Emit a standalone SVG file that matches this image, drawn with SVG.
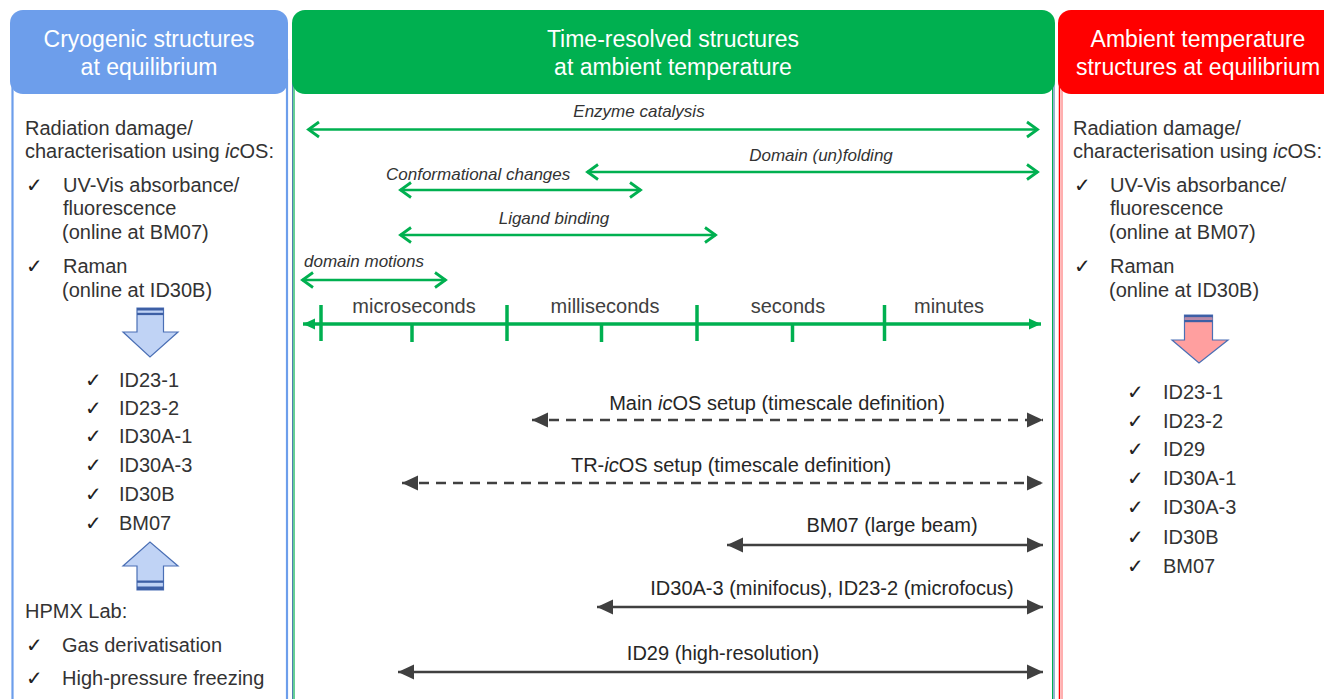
<svg xmlns="http://www.w3.org/2000/svg" width="1324" height="699" viewBox="0 0 1324 699">
<style>
text{font-family:"Liberation Sans",Arial,sans-serif;}
.hd{fill:#fff;font-size:23px;text-anchor:middle;}
.bt{fill:#333;font-size:20px;}
.ck{fill:#222;font-size:20px;font-family:"DejaVu Sans",sans-serif;}
.it{fill:#333;font-size:17px;font-style:italic;}
.ti{fill:#404040;font-size:20px;text-anchor:middle;}
.lb{fill:#262626;font-size:20px;text-anchor:middle;}
.ga{stroke:#00b050;stroke-width:2.5;fill:none;marker-start:url(#gch);marker-end:url(#gch);}
.da{stroke:#404040;stroke-width:2.5;fill:none;marker-start:url(#dtri);marker-end:url(#dtri);}
.dash{stroke-dasharray:10 7;}
.tk{stroke:#00b050;stroke-width:3.5;}
</style>
<defs>
<marker id="gch" viewBox="-14 -10 16 20" markerWidth="16" markerHeight="20" refX="0" refY="0" markerUnits="userSpaceOnUse" orient="auto-start-reverse" overflow="visible">
<path d="M -11 -7.5 L -0.5 0 L -11 7.5" fill="none" stroke="#00b050" stroke-width="2.8" stroke-linejoin="miter"/>
</marker>
<marker id="dtri" viewBox="-17 -8 18 16" markerWidth="18" markerHeight="16" refX="0" refY="0" markerUnits="userSpaceOnUse" orient="auto-start-reverse" overflow="visible">
<path d="M -16 -7.5 L 0 0 L -16 7.5 Z" fill="#404040"/>
</marker>
<marker id="gtri" viewBox="-13 -6 14 12" markerWidth="14" markerHeight="12" refX="0" refY="0" markerUnits="userSpaceOnUse" orient="auto-start-reverse" overflow="visible">
<path d="M -12 -5.5 L 0 0 L -12 5.5 Z" fill="#00b050"/>
</marker>
</defs>
<rect width="1324" height="699" fill="#fff"/>

<g id="col-cryo">
<rect x="12.5" y="60" width="274.5" height="660" fill="none" stroke="#6d9eeb" stroke-width="2.2"/>
<rect x="10" y="10" width="278" height="84" rx="13" fill="#6d9eeb"/>
<text class="hd" x="149" y="47">Cryogenic structures</text>
<text class="hd" x="149" y="75">at equilibrium</text>
<text class="bt" x="25" y="135">Radiation damage/</text>
<text class="bt" x="25" y="158">characterisation using <tspan font-style="italic">ic</tspan>OS:</text>
<text class="ck" x="26" y="192">✓</text>
<text class="bt" x="63" y="192">UV-Vis absorbance/</text>
<text class="bt" x="63" y="215">fluorescence</text>
<text class="bt" x="62" y="239">(online at BM07)</text>
<text class="ck" x="26" y="273">✓</text>
<text class="bt" x="63" y="273">Raman</text>
<text class="bt" x="62" y="297">(online at ID30B)</text>
<g id="arrow-down-blue">
<path d="M137 308 H163.5 V332 H178 L150 357 L123 332 H137 Z" fill="#c0d3f5" stroke="#4a6fb5" stroke-width="1.2"/>
<rect x="137" y="308" width="26.5" height="2.5" fill="#3d5fa5"/>
<rect x="137" y="312.8" width="26.5" height="2.3" fill="#3d5fa5"/>
</g>
<text class="ck" x="85" y="387">✓</text><text class="bt" x="119" y="387">ID23-1</text>
<text class="ck" x="85" y="415">✓</text><text class="bt" x="119" y="415">ID23-2</text>
<text class="ck" x="85" y="443">✓</text><text class="bt" x="119" y="443">ID30A-1</text>
<text class="ck" x="85" y="472">✓</text><text class="bt" x="119" y="472">ID30A-3</text>
<text class="ck" x="85" y="501">✓</text><text class="bt" x="119" y="501">ID30B</text>
<text class="ck" x="85" y="530">✓</text><text class="bt" x="119" y="530">BM07</text>
<g id="arrow-up-blue">
<path d="M137 590 H163.5 V566 H178 L150 542 L123 566 H137 Z" fill="#c0d3f5" stroke="#4a6fb5" stroke-width="1.2"/>
<rect x="137" y="580.5" width="26.5" height="2.3" fill="#3d5fa5"/>
<rect x="137" y="586.5" width="26.5" height="3.5" fill="#3d5fa5"/>
</g>
<text class="bt" x="25" y="618">HPMX Lab:</text>
<text class="ck" x="26" y="652">✓</text>
<text class="bt" x="62" y="652">Gas derivatisation</text>
<text class="ck" x="26" y="685">✓</text>
<text class="bt" x="62" y="685">High-pressure freezing</text>
</g>

<g id="col-time">
<line x1="292.5" y1="60" x2="292.5" y2="699" stroke="#4f7fb0" stroke-width="1"/>
<line x1="294" y1="60" x2="294" y2="699" stroke="#00b050" stroke-width="1.2"/>
<line x1="1052.5" y1="60" x2="1052.5" y2="699" stroke="#00b050" stroke-width="1"/>
<line x1="1054" y1="60" x2="1054" y2="699" stroke="#4f7fb0" stroke-width="1.2"/>
<rect x="292" y="10" width="763" height="84" rx="13" fill="#00b050"/>
<text class="hd" x="673" y="47">Time-resolved structures</text>
<text class="hd" x="673" y="75">at ambient temperature</text>
</g>

<g id="col-ambient">
<line x1="1059.5" y1="60" x2="1059.5" y2="699" stroke="#ff0000" stroke-width="1.5"/>
<line x1="1062" y1="60" x2="1062" y2="699" stroke="#ff6060" stroke-width="1"/>
<rect x="1058" y="10" width="290" height="84" rx="13" fill="#ff0000"/>
<text class="hd" x="1198" y="47">Ambient temperature</text>
<text class="hd" x="1198" y="75">structures at equilibrium</text>
<text class="bt" x="1073" y="135">Radiation damage/</text>
<text class="bt" x="1073" y="158">characterisation using <tspan font-style="italic">ic</tspan>OS:</text>
<text class="ck" x="1074" y="192">✓</text>
<text class="bt" x="1110" y="192">UV-Vis absorbance/</text>
<text class="bt" x="1110" y="215">fluorescence</text>
<text class="bt" x="1109" y="239">(online at BM07)</text>
<text class="ck" x="1074" y="273">✓</text>
<text class="bt" x="1110" y="273">Raman</text>
<text class="bt" x="1109" y="297">(online at ID30B)</text>
<g id="arrow-down-red">
<path d="M1184.5 315 H1212.5 V340 H1228 L1199 363 L1172 340 H1184.5 Z" fill="#ff9f9f" stroke="#4a6fb5" stroke-width="1.2"/>
<rect x="1184.5" y="315" width="28" height="2.5" fill="#3d5fa5"/>
<rect x="1184.5" y="317.5" width="28" height="2.5" fill="#b88aa8"/>
<rect x="1184.5" y="320" width="28" height="2.2" fill="#3d5fa5"/>
</g>
<text class="ck" x="1127" y="399">✓</text><text class="bt" x="1163" y="399">ID23-1</text>
<text class="ck" x="1127" y="428">✓</text><text class="bt" x="1163" y="428">ID23-2</text>
<text class="ck" x="1127" y="456">✓</text><text class="bt" x="1163" y="456">ID29</text>
<text class="ck" x="1127" y="485">✓</text><text class="bt" x="1163" y="485">ID30A-1</text>
<text class="ck" x="1127" y="514">✓</text><text class="bt" x="1163" y="514">ID30A-3</text>
<text class="ck" x="1127" y="544">✓</text><text class="bt" x="1163" y="544">ID30B</text>
<text class="ck" x="1127" y="573">✓</text><text class="bt" x="1163" y="573">BM07</text>
</g>

<g id="connectors">
<text class="it" x="639" y="117" text-anchor="middle">Enzyme catalysis</text>
<line class="ga" x1="308" y1="129.5" x2="1038" y2="129.5"/>
<text class="it" x="821" y="161" text-anchor="middle">Domain (un)folding</text>
<line class="ga" x1="587" y1="172" x2="1038" y2="172"/>
<text class="it" x="386" y="180">Conformational changes</text>
<line class="ga" x1="400" y1="190" x2="641" y2="190"/>
<text class="it" x="554" y="224" text-anchor="middle">Ligand binding</text>
<line class="ga" x1="400" y1="235" x2="716" y2="235"/>
<text class="it" x="304" y="267">domain motions</text>
<line class="ga" x1="302" y1="280" x2="446" y2="280"/>

<g id="timeline">
<line x1="303" y1="324" x2="1041" y2="324" stroke="#00b050" stroke-width="3.5" marker-start="url(#gtri)" marker-end="url(#gtri)"/>
<line class="tk" x1="321" y1="305" x2="321" y2="341"/>
<line class="tk" x1="507" y1="305" x2="507" y2="341"/>
<line class="tk" x1="697" y1="305" x2="697" y2="341"/>
<line class="tk" x1="884.5" y1="305" x2="884.5" y2="341"/>
<line class="tk" x1="412" y1="324" x2="412" y2="342"/>
<line class="tk" x1="601.5" y1="324" x2="601.5" y2="342"/>
<line class="tk" x1="792.5" y1="324" x2="792.5" y2="342"/>
<text class="ti" x="414" y="313">microseconds</text>
<text class="ti" x="605" y="313">milliseconds</text>
<text class="ti" x="788" y="313">seconds</text>
<text class="ti" x="949" y="313">minutes</text>
</g>

<text class="lb" x="777" y="410">Main <tspan font-style="italic">ic</tspan>OS setup (timescale definition)</text>
<line class="da dash" x1="532" y1="420" x2="1043" y2="420"/>
<text class="lb" x="731" y="472">TR-<tspan font-style="italic">ic</tspan>OS setup (timescale definition)</text>
<line class="da dash" x1="402" y1="483" x2="1043" y2="483"/>
<text class="lb" x="892" y="532">BM07 (large beam)</text>
<line class="da" x1="727" y1="545" x2="1043" y2="545"/>
<text class="lb" x="832" y="595">ID30A-3 (minifocus), ID23-2 (microfocus)</text>
<line class="da" x1="597" y1="607" x2="1043" y2="607"/>
<text class="lb" x="723" y="660">ID29 (high-resolution)</text>
<line class="da" x1="398" y1="672" x2="1043" y2="672"/>
</g>
</svg>
